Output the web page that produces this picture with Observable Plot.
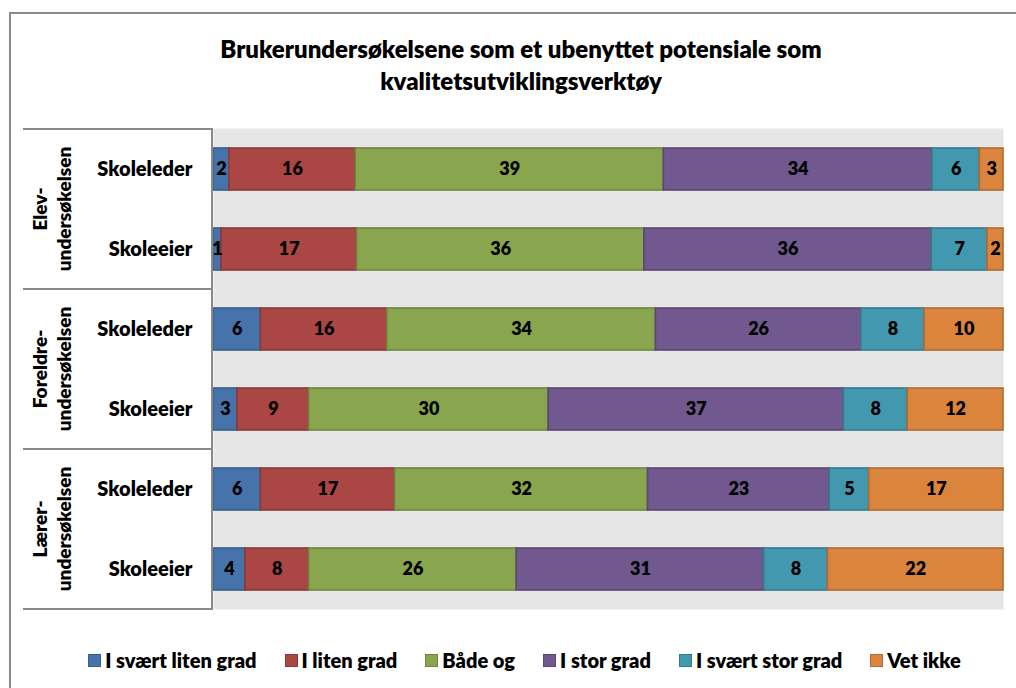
<!DOCTYPE html>
<html>
<head>
<meta charset="utf-8">
<script src="https://cdn.jsdelivr.net/npm/d3@7"></script>
<script src="https://cdn.jsdelivr.net/npm/@observablehq/plot@0.6"></script>
<style>
  body { margin: 0; background: #fff; font-family: Lato, "Open Sans", sans-serif; }
  #wrap { position: relative; width: 1016px; height: 688px; overflow: hidden; background: #fff; }
  #border { position: absolute; left: 9px; top: 12px; width: 1100px; height: 800px; border: 2px solid #8a8a8a; box-sizing: border-box; }
  #title { position: absolute; left: 0; width: 1042px; top: 33px; text-align: center; font-weight: 800; font-size: 24px; line-height: 32px; color: #000; }
  #chart { position: absolute; left: 0; top: 118px; }
  #legend { position: absolute; left: 0; width: 1049px; top: 647px; display: flex; justify-content: center; gap: 28px; font-weight: 800; font-size: 20px; line-height: 26px; }
  .item { display: flex; align-items: center; white-space: nowrap; }
  .sw { width: 11px; height: 11px; margin-right: 4px; border: 1px solid; }
</style>
</head>
<body>
<div id="wrap">
  <div id="border"></div>
  <div id="title">Brukerundersøkelsene som et ubenyttet potensiale som<br>kvalitetsutviklingsverktøy</div>
  <div id="chart"></div>
  <div id="legend"></div>
</div>
<script>
// Categories and labels
const surveys = [["Elev-", "undersøkelsen"], ["Foreldre-", "undersøkelsen"], ["Lærer-", "undersøkelsen"]];
const respondents = ["Skoleleder", "Skoleeier"];
const categories = ["I svært liten grad", "I liten grad", "Både og", "I stor grad", "I svært stor grad", "Vet ikke"];
const colors = ["#4674aa", "#aa4643", "#89a54e", "#71588f", "#4198af", "#db843d"];

// Values (percent) per row, in category order
const elevSkoleleder     = [2, 16, 39, 34, 6, 3];
const elevSkoleeier      = [1, 17, 36, 36, 7, 2];
const foreldreSkoleleder = [6, 16, 34, 26, 8, 10];
const foreldreSkoleeier  = [3, 9, 30, 37, 8, 12];
const laererSkoleleder   = [6, 17, 32, 23, 5, 17];
const laererSkoleeier    = [4, 8, 26, 31, 8, 22];

const rowsValues = [
  [elevSkoleleder, elevSkoleeier],
  [foreldreSkoleleder, foreldreSkoleeier],
  [laererSkoleleder, laererSkoleeier]
];

const rowKeys = [];
const data = [];
surveys.forEach((s, si) => {
  respondents.forEach((r, ri) => {
    const key = s.join("") + "|" + r;
    rowKeys.push(key);
    rowsValues[si][ri].forEach((v, ci) => data.push({row: key, cat: categories[ci], value: v}));
  });
});

const font = "Lato, 'Open Sans', sans-serif";

const plot = Plot.plot({
  width: 1016,
  height: 500,
  marginLeft: 213,
  marginRight: 13,
  marginTop: 10,
  marginBottom: 9,
  style: {fontFamily: font, background: "transparent", overflow: "visible"},
  x: {domain: [0, 1], axis: null},
  y: {domain: rowKeys, paddingInner: 0.476, paddingOuter: 0.238, label: null, tickSize: 0, tickPadding: 21,
      tickFormat: d => d.split("|")[1]},
  color: {domain: categories, range: colors},
  marks: [
    Plot.frame({fill: "#e6e6e6", stroke: null}),
    Plot.barX(data, Plot.stackX({x: "value", y: "row", fill: "cat", offset: "normalize", order: categories})),
    Plot.text(data, Plot.stackX({x: "value", y: "row", z: "cat", offset: "normalize", order: categories,
      text: d => String(d.value), fill: "#000", fontSize: 18, fontWeight: 800}))
  ]
});

// Style: darker borders on bars, axis label styling
const svg = d3.select(plot);
svg.selectAll("g[aria-label='bar'] rect").each(function() {
  const f = this.getAttribute("fill");
  this.setAttribute("stroke", d3.color(f).darker(0.6).formatHex());
  this.setAttribute("stroke-width", 1.6);
});
svg.selectAll("g[aria-label='y-axis tick label']")
  .attr("font-size", 20).attr("font-weight", 800).attr("fill", "#000");

// Hierarchical category box on the left, from the y scale
const ys = plot.scale("y");
const step = ys.step;
const top0 = ys.apply(rowKeys[0]) - (step - ys.bandwidth) / 2;
const boxLeft = 23, boxRight = 212;
const g = svg.append("g").attr("stroke", "#8a8a8a").attr("stroke-width", 2);
for (let k = 0; k <= surveys.length; k++) {
  const yy = top0 + k * respondents.length * step;
  g.append("line").attr("x1", boxLeft).attr("x2", boxRight + 1).attr("y1", yy).attr("y2", yy);
}
g.append("line").attr("x1", boxRight).attr("x2", boxRight)
  .attr("y1", top0).attr("y2", top0 + surveys.length * respondents.length * step);

surveys.forEach((s, si) => {
  const cy = top0 + (si + 0.5) * respondents.length * step;
  const t = svg.append("text")
    .attr("transform", `translate(56,${cy}) rotate(-90)`)
    .attr("text-anchor", "middle")
    .attr("font-family", font).attr("font-size", 19).attr("font-weight", 800).attr("fill", "#000");
  t.append("tspan").attr("x", 0).attr("y", -9).text(s[0]);
  t.append("tspan").attr("x", 0).attr("y", 15).text(s[1]);
});

document.getElementById("chart").appendChild(plot);

// Legend
const legend = d3.select("#legend");
categories.forEach((c, i) => {
  const it = legend.append("div").attr("class", "item");
  it.append("div").attr("class", "sw")
    .style("background", colors[i]).style("border-color", d3.color(colors[i]).darker(0.6).formatHex());
  it.append("span").text(c);
});
</script>
</body>
</html>
